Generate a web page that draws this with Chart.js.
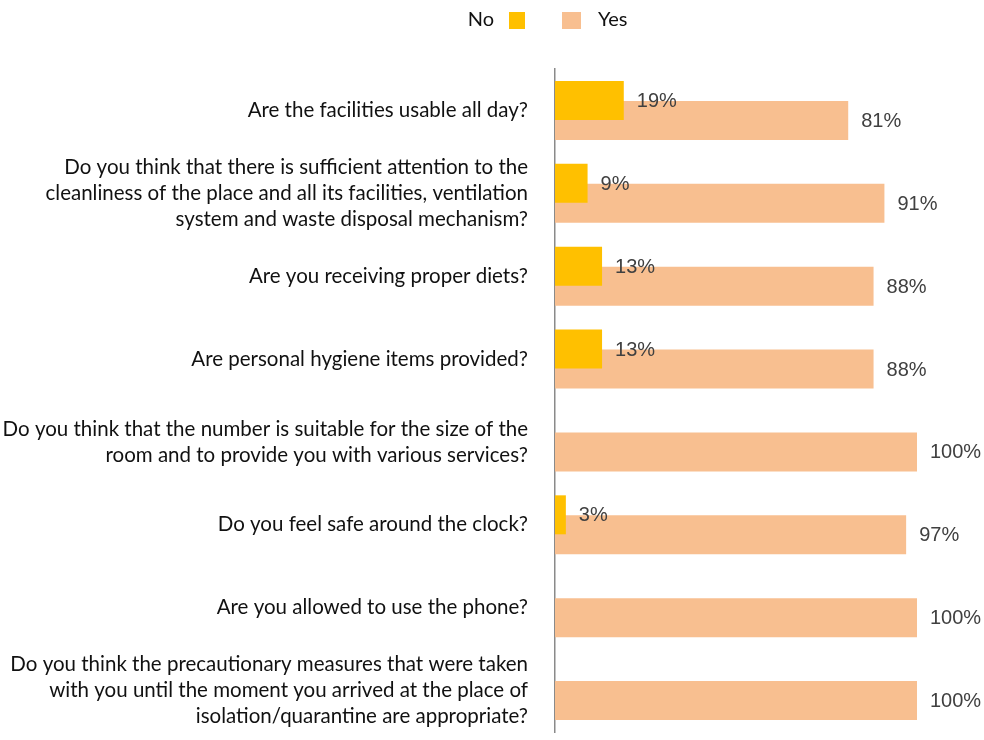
<!DOCTYPE html>
<html>
<head>
<meta charset="utf-8">
<script src="https://cdn.jsdelivr.net/npm/chart.js@4/dist/chart.umd.min.js"></script>
<style>
    html, body { margin: 0; padding: 0; background: #fff; }
    #wrap { width: 984px; height: 740px; position: relative; }
</style>
</head>
<body>
<div id="wrap"><canvas id="survey_chart"></canvas></div>
<script>
// questions, one array entry per line of the label
const questions = [
    ['Are the facilities usable all day?'],
    ['Do you think that there is sufficient attention to the', 'cleanliness of the place and all its facilities, ventilation', 'system and waste disposal mechanism?'],
    ['Are you receiving proper diets?'],
    ['Are personal hygiene items provided?'],
    ['Do you think that the number is suitable for the size of the', 'room and to provide you with various services?'],
    ['Do you feel safe around the clock?'],
    ['Are you allowed to use the phone?'],
    ['Do you think the precautionary measures that were taken', 'with you until the moment you arrived at the place of', 'isolation/quarantine are appropriate?']
];
const noValues = [19, 9, 13, 13, 0, 3, 0, 0];
const yesValues = [81, 91, 88, 88, 100, 97, 100, 100];

const noColor = '#FFC000';
const yesColor = '#F8BF90';
const textFont = 'Lato, "Open Sans", sans-serif';

// percent labels next to each bar
const valueLabels = {
    id: 'valueLabels',
    afterDatasetsDraw(chart) {
        const ctx = chart.ctx;
        ctx.save();
        ctx.font = '20px "Liberation Sans", Arial, sans-serif';
        ctx.fillStyle = '#404040';
        ctx.textAlign = 'left';
        ctx.textBaseline = 'middle';
        chart.data.datasets.forEach(function(ds, i) {
            chart.getDatasetMeta(i).data.forEach(function(bar, j) {
                if (!ds.data[j]) return;
                ctx.fillText(ds.data[j] + '%', bar.x + 13, bar.y + 1);
            });
        });
        ctx.restore();
    }
};

// legend: "No" text before its box, "Yes" box before its text
const topLegend = {
    id: 'topLegend',
    afterDraw(chart) {
        const ctx = chart.ctx;
        ctx.save();
        ctx.font = '20px ' + textFont;
        ctx.fillStyle = '#111';
        ctx.textBaseline = 'middle';
        ctx.textAlign = 'right';
        ctx.fillText('No', 494, 20);
        ctx.fillStyle = noColor;
        ctx.fillRect(509, 12, 16, 17);
        ctx.fillStyle = yesColor;
        ctx.fillRect(562, 12, 19, 17);
        ctx.fillStyle = '#111';
        ctx.textAlign = 'left';
        ctx.fillText('Yes', 598, 20);
        ctx.restore();
    }
};

window.onload = function(){
    const ctx = document.getElementById('survey_chart');
    new Chart(ctx, {
        type: 'bar',
        data: {
            labels: questions,
            datasets: [{
                label: 'No',
                data: noValues,
                backgroundColor: noColor
            },
            {
                label: 'Yes',
                data: yesValues,
                backgroundColor: yesColor
            }]
        },
        options: {
            indexAxis: 'y',
            responsive: true,
            maintainAspectRatio: false,
            animation: false,
            categoryPercentage: 0.4825,
            barPercentage: 1.95,
            layout: {
                padding: { top: 69, right: 67, bottom: 8, left: 0 }
            },
            scales: {
                x: {
                    display: false,
                    min: 0,
                    max: 100
                },
                y: {
                    // fixed width, and no extra room for the tall first/last labels
                    afterFit: function(scale) {
                        scale.width = 555;
                        scale.paddingTop = 0;
                        scale.paddingBottom = 0;
                    },
                    grid: { display: false, drawTicks: false },
                    border: { display: true, color: '#8a8a8a', width: 1.5 },
                    ticks: {
                        padding: 27,
                        color: '#111',
                        font: { family: textFont, size: 20.5, lineHeight: 1.27 }
                    }
                }
            },
            plugins: {
                legend: { display: false },
                tooltip: { enabled: false }
            }
        },
        plugins: [valueLabels, topLegend]
    });
}
</script>
</body>
</html>
